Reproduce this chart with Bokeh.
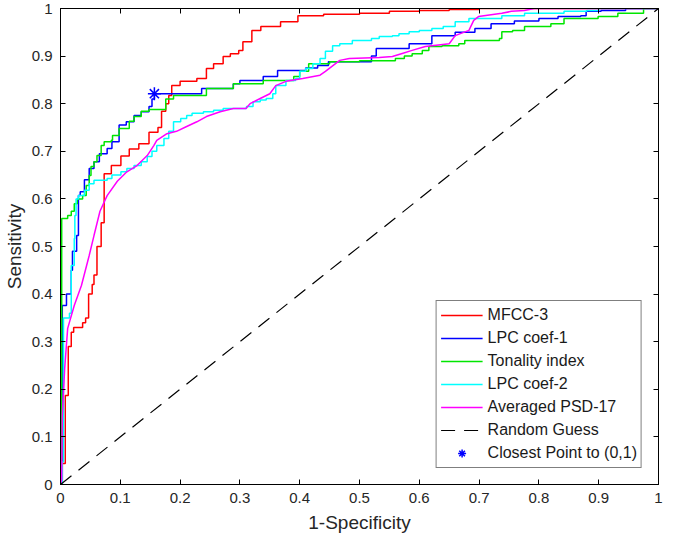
from bokeh.plotting import figure
from bokeh.models import Range1d, LinearAxis, FixedTicker
from bokeh.embed import file_html
from bokeh.resources import INLINE

# ---- data ----
ticks = [0, 0.1, 0.2, 0.3, 0.4, 0.5, 0.6, 0.7, 0.8, 0.9, 1]
tick_labels = ["0", "0.1", "0.2", "0.3", "0.4", "0.5", "0.6", "0.7", "0.8", "0.9", "1"]

mfcc_x = [0, 0.003, 0.008, 0.013, 0.018, 0.022, 0.037, 0.042, 0.047, 0.053, 0.056, 0.061, 0.068, 0.073,
          0.085, 0.101, 0.115, 0.131, 0.148, 0.163, 0.169, 0.176, 0.181, 0.186, 0.2, 0.228, 0.244, 0.256,
          0.272, 0.284, 0.298, 0.305, 0.32, 0.335, 0.368, 0.397, 0.44, 0.5, 0.55, 0.6, 0.65, 0.7, 1.0]
mfcc_y = [0, 0.044, 0.187, 0.29, 0.32, 0.33, 0.34, 0.35, 0.40, 0.42, 0.44, 0.50, 0.55, 0.653,
          0.67, 0.69, 0.705, 0.716, 0.74, 0.75, 0.784, 0.80, 0.817, 0.838, 0.847, 0.853, 0.874, 0.884,
          0.899, 0.905, 0.912, 0.93, 0.954, 0.962, 0.972, 0.985, 0.988, 0.99, 0.994, 0.996, 0.998, 1.0, 1.0]

lpc1_x = [0, 0.003, 0.01, 0.018, 0.02, 0.027, 0.03, 0.033, 0.04, 0.048, 0.056, 0.065, 0.078, 0.086,
          0.098, 0.11, 0.123, 0.135, 0.148, 0.153, 0.157, 0.236, 0.289, 0.3, 0.339, 0.363, 0.41, 0.43,
          0.448, 0.52, 0.528, 0.583, 0.621, 0.66, 0.693, 0.72, 0.759, 0.80, 0.832, 0.87, 0.879, 0.904,
          0.945, 1.0]
lpc1_y = [0, 0.376, 0.40, 0.45, 0.49, 0.523, 0.607, 0.615, 0.64, 0.664, 0.678, 0.695, 0.706, 0.72,
          0.755, 0.762, 0.775, 0.783, 0.794, 0.81, 0.821, 0.832, 0.842, 0.849, 0.857, 0.87, 0.875, 0.88,
          0.888, 0.90, 0.916, 0.926, 0.943, 0.95, 0.958, 0.968, 0.974, 0.979, 0.983, 0.985, 0.994, 0.996,
          1.0, 1.0]

ton_x = [0, 0.002, 0.012, 0.018, 0.023, 0.028, 0.037, 0.043, 0.048, 0.051, 0.056, 0.061, 0.068, 0.073,
         0.085, 0.087, 0.098, 0.115, 0.123, 0.135, 0.148, 0.176, 0.189, 0.244, 0.289, 0.339, 0.39, 0.40,
         0.415, 0.45, 0.50, 0.56, 0.575, 0.588, 0.605, 0.616, 0.638, 0.666, 0.676, 0.734, 0.738, 0.756,
         0.776, 0.82, 0.842, 0.899, 0.932, 0.975, 1.0]
ton_y = [0, 0.559, 0.565, 0.574, 0.59, 0.60, 0.607, 0.628, 0.649, 0.668, 0.678, 0.691, 0.712, 0.72,
         0.723, 0.733, 0.748, 0.763, 0.773, 0.784, 0.788, 0.81, 0.817, 0.832, 0.842, 0.849, 0.857, 0.868,
         0.884, 0.888, 0.89, 0.895, 0.90, 0.905, 0.912, 0.92, 0.922, 0.926, 0.933, 0.937, 0.951, 0.954,
         0.962, 0.968, 0.979, 0.983, 0.99, 1.0, 1.0]

lpc2_x = [0, 0.003, 0.005, 0.015, 0.018, 0.023, 0.024, 0.026, 0.03, 0.04, 0.048, 0.056, 0.078, 0.086,
          0.101, 0.111, 0.123, 0.135, 0.145, 0.153, 0.161, 0.173, 0.181, 0.189, 0.201, 0.211, 0.22, 0.239,
          0.256, 0.272, 0.311, 0.322, 0.334, 0.344, 0.355, 0.36, 0.377, 0.393, 0.40, 0.41, 0.422, 0.434,
          0.443, 0.455, 0.467, 0.488, 0.52, 0.533, 0.555, 0.566, 0.583, 0.6, 0.621, 0.64, 0.66, 0.683,
          0.738, 0.776, 0.842, 0.88, 0.90, 1.0]
lpc2_y = [0, 0.048, 0.35, 0.36, 0.46, 0.517, 0.565, 0.60, 0.607, 0.618, 0.632, 0.639, 0.643, 0.65,
          0.657, 0.664, 0.67, 0.678, 0.689, 0.70, 0.712, 0.727, 0.742, 0.762, 0.769, 0.775, 0.78, 0.783,
          0.786, 0.79, 0.794, 0.804, 0.808, 0.811, 0.821, 0.838, 0.849, 0.853, 0.868, 0.874, 0.884, 0.895,
          0.91, 0.922, 0.926, 0.933, 0.937, 0.941, 0.943, 0.947, 0.951, 0.954, 0.958, 0.962, 0.972, 0.979,
          0.985, 0.99, 0.994, 0.996, 1.0, 1.0]

psd_x = [0, 0.002, 0.003, 0.007, 0.012, 0.023, 0.035, 0.048, 0.056, 0.066, 0.078, 0.095, 0.111, 0.128,
         0.145, 0.156, 0.161, 0.178, 0.194, 0.211, 0.228, 0.244, 0.267, 0.289, 0.31, 0.317, 0.334, 0.35,
         0.36, 0.377, 0.405, 0.434, 0.443, 0.467, 0.483, 0.533, 0.555, 0.57, 0.588, 0.61, 0.65, 0.66,
         0.683, 0.691, 0.699, 0.738, 0.754, 0.776, 0.792, 1.0]
psd_y = [0, 0.01, 0.145, 0.244, 0.328, 0.376, 0.418, 0.481, 0.523, 0.574, 0.607, 0.637, 0.657, 0.67,
         0.691, 0.712, 0.723, 0.737, 0.742, 0.752, 0.762, 0.773, 0.783, 0.79, 0.79, 0.80, 0.811, 0.821,
         0.838, 0.847, 0.853, 0.86, 0.868, 0.891, 0.895, 0.897, 0.899, 0.905, 0.912, 0.92, 0.926, 0.943,
         0.954, 0.975, 0.983, 0.99, 0.994, 0.996, 1.0, 1.0]

guess_x = [0, 1]
guess_y = [0, 1]

best_x = [0.157]
best_y = [0.821]

FONT = "Liberation Sans"
TXT = "#262626"

p = figure(frame_width=598, frame_height=476,
           x_range=Range1d(0, 1), y_range=Range1d(0, 1),
           output_backend="svg", toolbar_location=None,
           min_border_left=58, min_border_top=8, min_border_right=5, min_border_bottom=52)
p.background_fill_color = "white"
p.border_fill_color = "white"
p.xgrid.visible = False
p.ygrid.visible = False
p.outline_line_color = "black"
p.outline_line_width = 1

overrides = {t: l for t, l in zip(ticks, tick_labels)}
blank = {t: "" for t in ticks}

def style_axis(ax, labels=True):
    ax.ticker = FixedTicker(ticks=ticks)
    ax.major_tick_in = 5
    ax.major_tick_out = 0
    ax.minor_tick_line_color = None
    ax.axis_line_color = "black"
    ax.major_tick_line_color = "black"
    ax.major_label_text_font = FONT
    ax.major_label_text_color = TXT
    ax.axis_label_text_font = FONT
    ax.axis_label_text_font_size = "19px"
    ax.axis_label_text_font_style = "normal"
    ax.axis_label_text_color = TXT
    if labels:
        ax.major_label_overrides = overrides
        ax.major_label_text_font_size = "15px"
    else:
        ax.major_label_overrides = blank
        ax.major_label_text_font_size = "1px"
        ax.major_label_standoff = 0

style_axis(p.xaxis[0])
style_axis(p.yaxis[0])
p.xaxis[0].axis_label = "1-Specificity"
p.yaxis[0].axis_label = "Sensitivity"
p.xaxis[0].major_label_standoff = 8
p.yaxis[0].major_label_standoff = 8
p.xaxis[0].axis_label_standoff = 6
p.yaxis[0].axis_label_standoff = 4

top = LinearAxis()
style_axis(top, labels=False)
p.add_layout(top, "above")
right = LinearAxis()
style_axis(right, labels=False)
p.add_layout(right, "right")

LW = 1.5
p.step(mfcc_x, mfcc_y, mode="after", line_color="#ff0000", line_width=LW, legend_label="MFCC-3")
p.step(lpc1_x, lpc1_y, mode="after", line_color="#0000ff", line_width=LW, legend_label="LPC coef-1")
p.step(ton_x, ton_y, mode="after", line_color="#00e600", line_width=LW, legend_label="Tonality index")
p.step(lpc2_x, lpc2_y, mode="after", line_color="#00ffff", line_width=LW, legend_label="LPC coef-2")
p.line(psd_x, psd_y, line_color="#ff00ff", line_width=LW, legend_label="Averaged PSD-17")
p.line(guess_x, guess_y, line_color="black", line_width=1.2, line_dash="14 9", legend_label="Random Guess")
p.scatter(best_x, best_y, marker="asterisk", size=13, line_color="#0000ff", line_width=1.5,
          legend_label="Closest Point to (0,1)")

lg = p.legend[0]
lg.location = "bottom_right"
lg.margin = 16
lg.padding = 4
lg.spacing = 3
lg.glyph_width = 42
lg.glyph_height = 20
lg.label_height = 20
lg.label_standoff = 5
lg.label_text_font = FONT
lg.label_text_font_size = "16px"
lg.label_text_color = "#1a1a1a"
lg.border_line_color = "black"
lg.border_line_width = 1
lg.background_fill_color = "white"
lg.background_fill_alpha = 1.0

open("out.html", "w").write(file_html(p, INLINE))
